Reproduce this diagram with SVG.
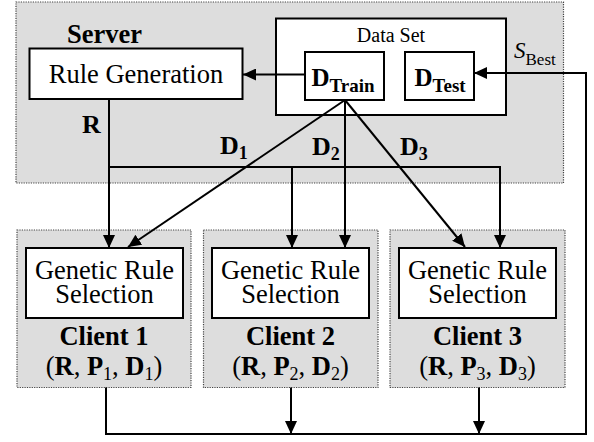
<svg xmlns="http://www.w3.org/2000/svg" width="594" height="442" viewBox="0 0 594 442" font-family="'Liberation Serif', 'Times New Roman', 'DejaVu Serif', serif">
<style>
.grp{fill:#dddddd;stroke:#444;stroke-width:1.2;stroke-dasharray:1.2 1.2}
.box{fill:#fff;stroke:#000;stroke-width:2}
.ln{fill:none;stroke:#000;stroke-width:2}
.arr{marker-end:url(#ah)}
text{font-family:'Liberation Serif','Times New Roman','DejaVu Serif',serif;fill:#000}
.t27{font-size:26.5px;text-anchor:middle}
.b{font-weight:bold}
</style>
<defs>
<marker id="ah" viewBox="0 0 13 12" refX="13" refY="6" markerWidth="13" markerHeight="12" markerUnits="userSpaceOnUse" orient="auto">
<path d="M0,0 L13,6 L0,12 z" fill="#000"/>
</marker>
</defs>

<g id="server">
<rect class="grp" x="16" y="2" width="547.5" height="181"/>
<text x="67" y="43" font-size="26.5" font-weight="bold">Server</text>
</g>

<g id="client1">
<rect class="grp" x="17" y="230" width="174" height="157.5"/>
<text class="t27 b" x="104" y="345">Client 1</text>
<text class="t27" x="104" y="375">(<tspan class="b">R</tspan>, <tspan class="b">P</tspan><tspan font-size="18" dy="5">1</tspan><tspan dy="-5">, </tspan><tspan class="b">D</tspan><tspan font-size="18" dy="5">1</tspan><tspan dy="-5">)</tspan></text>
</g>
<g id="client2">
<rect class="grp" x="203.5" y="230" width="174.5" height="157.5"/>
<text class="t27 b" x="290.5" y="345">Client 2</text>
<text class="t27" x="290.5" y="375">(<tspan class="b">R</tspan>, <tspan class="b">P</tspan><tspan font-size="18" dy="5">2</tspan><tspan dy="-5">, </tspan><tspan class="b">D</tspan><tspan font-size="18" dy="5">2</tspan><tspan dy="-5">)</tspan></text>
</g>
<g id="client3">
<rect class="grp" x="390" y="230" width="175" height="157.5"/>
<text class="t27 b" x="477.5" y="345">Client 3</text>
<text class="t27" x="477.5" y="375">(<tspan class="b">R</tspan>, <tspan class="b">P</tspan><tspan font-size="18" dy="5">3</tspan><tspan dy="-5">, </tspan><tspan class="b">D</tspan><tspan font-size="18" dy="5">3</tspan><tspan dy="-5">)</tspan></text>
</g>

<g id="rule-generation">
<rect class="box" x="29.5" y="48.5" width="213" height="50.5"/>
<text class="t27" x="136" y="83" font-size="27">Rule Generation</text>
</g>

<g id="data-set">
<rect class="box" x="276" y="18.5" width="230" height="96.5"/>
<text x="391" y="42" font-size="20" text-anchor="middle">Data Set</text>
</g>
<g id="d-train">
<rect class="box" x="305" y="52" width="79" height="48"/>
<text x="311.5" y="86" font-size="25" font-weight="bold">D<tspan font-size="19" dy="6">Train</tspan></text>
</g>
<g id="d-test">
<rect class="box" x="405" y="52" width="69" height="48"/>
<text x="414.5" y="86" font-size="25" font-weight="bold">D<tspan font-size="19" dy="6">Test</tspan></text>
</g>

<g id="grs1">
<rect class="box" x="26" y="248" width="157" height="70"/>
<text class="t27" x="104.5" y="279">Genetic Rule</text>
<text class="t27" x="104.5" y="303">Selection</text>
</g>
<g id="grs2">
<rect class="box" x="212" y="248" width="157" height="70"/>
<text class="t27" x="290.5" y="279">Genetic Rule</text>
<text class="t27" x="290.5" y="303">Selection</text>
</g>
<g id="grs3">
<rect class="box" x="399" y="248" width="157" height="70"/>
<text class="t27" x="477.5" y="279">Genetic Rule</text>
<text class="t27" x="477.5" y="303">Selection</text>
</g>

<g id="connectors">
<line class="ln arr" x1="305" y1="74.5" x2="243" y2="74.5"/>
<line class="ln arr" x1="109" y1="99" x2="109" y2="248"/>
<polyline class="ln" points="109,167 500,167"/>
<line class="ln arr" x1="292" y1="167" x2="292" y2="248"/>
<line class="ln arr" x1="500" y1="166" x2="500" y2="248"/>
<line class="ln arr" x1="345" y1="100" x2="128" y2="247"/>
<line class="ln arr" x1="345" y1="100" x2="345" y2="248"/>
<line class="ln arr" x1="345" y1="100" x2="465" y2="247"/>
<line class="ln arr" x1="291" y1="387.5" x2="291" y2="434"/>
<line class="ln arr" x1="479" y1="387.5" x2="479" y2="434"/>
<polyline class="ln arr" points="106,387.5 106,434 586,434 586,73 474,73"/>
<text x="82" y="133" font-size="26" font-weight="bold">R</text>
<text x="220" y="154" font-size="26" font-weight="bold">D<tspan font-size="18" dy="5">1</tspan></text>
<text x="312" y="155" font-size="26" font-weight="bold">D<tspan font-size="18" dy="5">2</tspan></text>
<text x="400" y="155" font-size="26" font-weight="bold">D<tspan font-size="18" dy="5">3</tspan></text>
<text x="514" y="57.5" font-size="23" font-style="italic">S<tspan font-style="normal" font-size="17" dy="7">Best</tspan></text>
</g>
</svg>
